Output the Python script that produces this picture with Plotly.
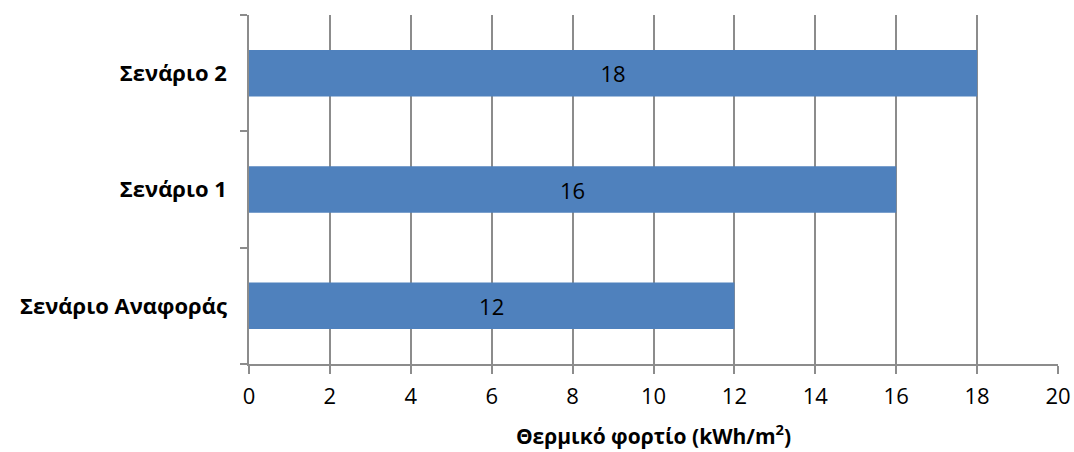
import plotly.graph_objects as go

scenarios = ["Σενάριο Αναφοράς", "Σενάριο 1", "Σενάριο 2"]
thermal_load = [12, 16, 18]
x_ticks = [0, 2, 4, 6, 8, 10, 12, 14, 16, 18, 20]

grid_color = "#8c8c8c"
font_family = "Open Sans, Liberation Sans, sans-serif"

fig = go.Figure(
    go.Bar(
        x=thermal_load,
        y=scenarios,
        orientation="h",
        marker=dict(color="#4f81bd", line=dict(width=0)),
        text=[str(v) for v in thermal_load],
        textposition="inside",
        insidetextanchor="middle",
        textfont=dict(family=font_family, size=22, color="#000000"),
        hoverinfo="skip",
    )
)

fig.update_layout(
    width=1074,
    height=452,
    margin=dict(l=249, r=16, t=15, b=88, autoexpand=False),
    paper_bgcolor="white",
    plot_bgcolor="white",
    bargap=0.6,
    showlegend=False,
    font=dict(family=font_family, color="#000000"),
)

fig.update_xaxes(
    automargin=False,
    range=[0, 20],
    tickvals=x_ticks,
    ticktext=[str(v) for v in x_ticks],
    tickfont=dict(size=22),
    showgrid=True,
    gridcolor=grid_color,
    gridwidth=1.5,
    zeroline=False,
    showline=True,
    linecolor=grid_color,
    linewidth=1.5,
    ticks="outside",
    ticklen=8,
    tickcolor=grid_color,
    tickwidth=1.5,
    ticklabelstandoff=4,
    title=dict(
        text="<b>Θερμικό φορτίο (kWh/m<sup>2</sup>)</b>",
        font=dict(size=21),
        standoff=20,
    ),
)

fig.update_yaxes(
    automargin=False,
    categoryorder="array",
    categoryarray=scenarios,
    tickson="boundaries",
    ticks="outside",
    ticklen=7,
    tickcolor=grid_color,
    tickwidth=1.5,
    showline=True,
    linecolor=grid_color,
    linewidth=1.5,
    showgrid=False,
    tickfont=dict(size=22),
    ticklabelstandoff=16,
    tickprefix="<b>",
    ticksuffix="</b>",
)

fig.write_html("out.html")
